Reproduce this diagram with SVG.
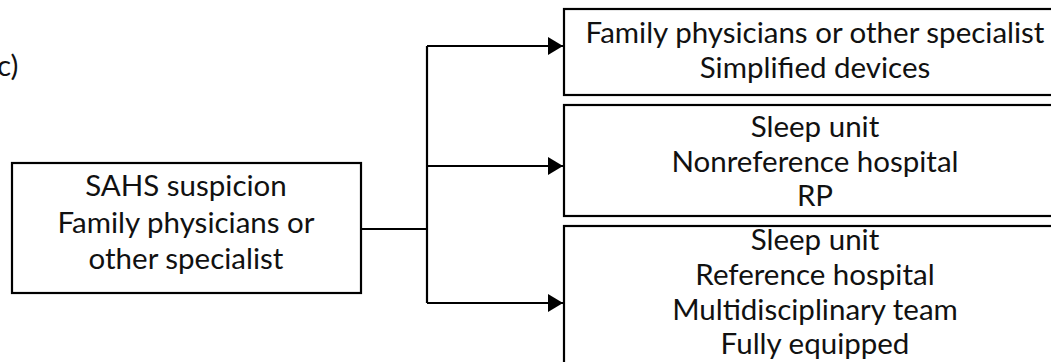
<svg xmlns="http://www.w3.org/2000/svg" width="1051" height="362" viewBox="0 0 1051 362">
<style>
.box{fill:#fff;stroke:#000;stroke-width:2.2}
.t{font-family:Lato,"Open Sans",sans-serif;font-size:29.5px;fill:#111;text-anchor:middle}
.c{fill:none;stroke:#000;stroke-width:2.2}
</style>
<defs>
<marker id="ah" markerWidth="15" markerHeight="18" refX="15" refY="9" orient="auto" markerUnits="userSpaceOnUse">
<path d="M0,0 L15,9 L0,18 Z" fill="#000"/>
</marker>
</defs>
<text x="-3" y="76" style="font-family:Lato,sans-serif;font-size:29.5px;fill:#111">c)</text>
<g id="connectors">
<path class="c" d="M361,229 H427"/>
<path class="c" d="M427,46 V303"/>
<path class="c" d="M427,46 H563" marker-end="url(#ah)"/>
<path class="c" d="M427,166 H563" marker-end="url(#ah)"/>
<path class="c" d="M427,303 H563" marker-end="url(#ah)"/>
</g>
<g id="n-sahs">
<rect class="box" x="12" y="163" width="349" height="130"/>
<text class="t" x="186" y="196">SAHS suspicion</text>
<text class="t" x="186" y="233">Family physicians or</text>
<text class="t" x="186" y="269">other specialist</text>
</g>
<g id="n-family">
<rect class="box" x="564" y="9" width="500" height="86"/>
<text class="t" x="815" y="43">Family physicians or other specialist</text>
<text class="t" x="815" y="78">Simplified devices</text>
</g>
<g id="n-nonref">
<rect class="box" x="564" y="105" width="500" height="111"/>
<text class="t" x="815" y="137">Sleep unit</text>
<text class="t" x="815" y="172">Nonreference hospital</text>
<text class="t" x="815" y="206">RP</text>
</g>
<g id="n-ref">
<rect class="box" x="564" y="226" width="500" height="150"/>
<text class="t" x="815" y="250">Sleep unit</text>
<text class="t" x="815" y="285">Reference hospital</text>
<text class="t" x="815" y="320">Multidisciplinary team</text>
<text class="t" x="815" y="354">Fully equipped</text>
</g>
</svg>
